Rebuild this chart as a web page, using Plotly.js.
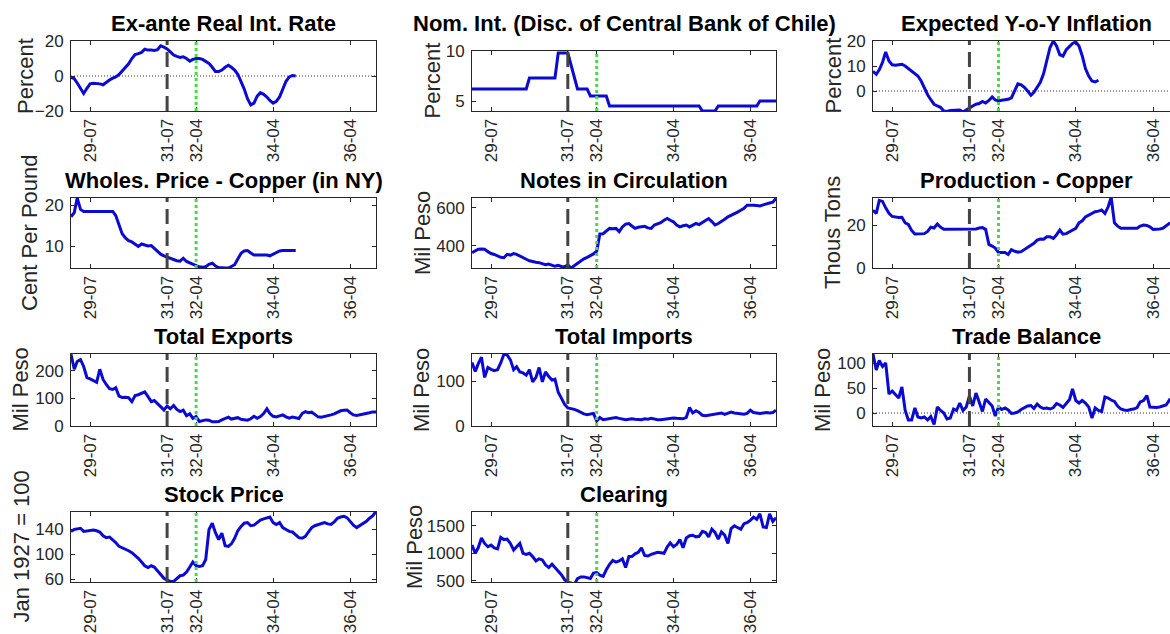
<!DOCTYPE html>
<html><head><meta charset="utf-8">
<script src="https://cdn.plot.ly/plotly-3.0.1.min.js"></script>
<style>html,body{margin:0;padding:0;overflow:hidden;background:#fff}#chart{width:1185px;height:634px}</style>
</head><body><div id="chart"></div><script>
// ---- x axis: monthly observations Jan 1929 .. Dec 1936 ----
const months = [];
for (let y = 1929; y <= 1936; y++) for (let m = 1; m <= 12; m++) months.push(y + '-' + String(m).padStart(2, '0') + '-01');
const xTickVals = ['1929-07-01', '1931-07-01', '1932-04-01', '1934-04-01', '1936-04-01'];
const xTickText = ['29-07', '31-07', '32-04', '34-04', '36-04'];
const dashedEventDate = '1931-07-01';
const dottedEventDate = '1932-04-01';

// ---- series ----
const realRate = [-0.8,-1.5,-4,-7.5,-10,-7,-4.5,-4.2,-4.3,-4.5,-5,-3.5,-2.3,-1.2,-0.5,0.8,3,5,7,10,12.3,12.8,13.5,15.3,14.8,14.8,14.6,15,17.2,16.5,15.5,13.8,12,11.2,10.6,11,10,8.5,9.5,10,10,9.5,8.5,7.2,5,2.5,2.5,3.4,5,6.1,5,3.4,1,-3,-7.5,-13,-16.5,-15.5,-11.5,-9.5,-10.5,-12,-14,-15.5,-14.5,-12,-7,-3,-0.5,0.3,0];
const nomInt = [6.2,6.2,6.2,6.2,6.2,6.2,6.2,6.2,6.2,6.2,6.2,6.2,6.2,6.2,6.2,6.2,6.2,6.2,7.3,7.3,7.3,7.3,7.3,7.3,7.3,7.3,7.3,9.8,9.8,9.8,9.8,8.6,7.3,6.2,6.2,6.2,6.2,5.5,5.5,5.5,5.5,5.5,5.5,4.5,4.5,4.5,4.5,4.5,4.5,4.5,4.5,4.5,4.5,4.5,4.5,4.5,4.5,4.5,4.5,4.5,4.5,4.5,4.5,4.5,4.5,4.5,4.5,4.5,4.5,4.5,4.5,4.5,4,4,4,4,4,4.5,4.5,4.5,4.5,4.5,4.5,4.5,4.5,4.5,4.5,4.5,4.5,4.5,5,5,5,5,5,5];
const expInflation = [7.9,6.7,8.5,11.5,15.6,12,10.5,10.3,10.5,10.7,10,9,8,7.2,6,4,1,-1.5,-3.5,-5.3,-6,-6.5,-8,-8.2,-7.8,-7.8,-7.6,-7.6,-8.4,-7.5,-6.7,-6,-5.3,-5,-4.2,-4.8,-3.8,-2.4,-3.6,-4,-3.7,-3.5,-3.3,-2.7,0,2.9,2.5,1.5,0,-1.7,-0.5,1.5,3.5,7,12,17.5,20,18,14.5,14,16.5,18,19,19.6,18,14,9,6,4,3.6,4.3];
const copperPrice = [17.2,18.2,21.8,19,18.5,18.5,18.5,18.5,18.5,18.5,18.5,18.5,18.5,18.5,17.5,15,13,12,11.3,11,10.4,9.9,10.5,10.2,10,10.1,9.5,8.6,8,7.6,7.3,7,6.7,6.4,6.3,7,6.2,5.8,5.5,5.2,4.9,4.8,4.9,5.5,5.8,5.1,4.7,4.6,4.6,4.6,4.9,5.4,6.8,8.2,8.8,8.9,8.3,7.8,7.8,7.8,7.9,7.8,7.6,8,8.4,8.8,8.9,8.9,8.9,8.9,8.9];
const notes = [365,375,383,384,383,370,360,355,348,340,338,356,352,360,356,346,338,330,322,316,314,312,306,301,305,300,293,298,292,290,300,284,296,310,322,332,340,348,358,372,463,464,480,492,490,492,475,500,515,518,505,492,498,500,503,495,492,510,518,522,535,544,535,527,510,500,506,510,500,510,518,512,522,536,544,528,510,518,527,540,553,560,570,578,588,598,614,615,614,612,610,616,623,626,630,650];
const copperProd = [26.9,25.4,31.5,31,28,25.5,24,23.7,23.5,23.6,21,20.3,17.5,15.8,15.8,16,16,17,19,18.6,20.5,19,18,18,18,18,18,18,18,18,18,18,18.2,18.6,18.8,18,11,10.2,9.3,7.2,7.2,7.2,6.3,8.5,7.8,7.4,7.6,8.5,9.5,10.5,11.5,13,13.5,13.4,14.5,14.5,13.8,15.5,17.7,15.8,16,16.9,17.5,18.5,21,22,23.8,24.5,25.5,26.2,26.5,27,25.4,28.5,33,21,19.5,18.5,18.5,18.5,18.5,18.2,18.5,19.5,20,19.8,19.2,18,18,18.2,18.5,19.8,20.8,21,22,22];
const exportsTot = [259,205,233,240,215,175,170,163,158,205,168,150,135,132,138,108,103,104,102,88,110,113,118,123,106,88,92,80,67,58,72,62,74,60,52,57,37,44,28,34,16,20,22,21,15,15,16,22,28,32,25,28,30,24,22,21,26,35,28,34,45,62,45,35,33,38,40,33,28,32,30,27,45,52,48,50,42,33,32,34,38,40,44,50,55,57,58,48,40,38,40,42,45,48,51,51];
const importsTot = [141,121,138,153,108,130,126,123,125,140,160,158,147,125,132,120,118,113,125,98,108,130,98,120,110,102,104,75,62,48,40,39,37,34,30,27,25,26,28,11,19,14,15,16,18,19,17,15,14,15,16,15,14,14,16,15,17,15,14,14,15,16,17,18,17,16,16,19,41,29,34,30,24,23,24,25,26,27,29,26,28,31,29,28,27,26,28,35,30,29,28,29,30,29,30,35];
const tradeBalance = [118,86,105,93,100,38,44,38,30,52,5,-14,-14,10,-8,-10,-8,-14,-7,-23,12,5,0,-12,-10,8,5,20,5,12,34,14,40,22,3,28,20,14,-6,12,7,10,6,-1,0,2,7,11,14,15,9,18,12,9,10,8,11,19,16,11,18,27,48,25,20,25,20,12,-10,10,5,3,32,30,26,23,14,8,6,5,7,8,11,22,25,35,12,11,11,12,14,16,26,20,18,20];
const stockPrice = [137,140,141,142,137,138,139,139,138,136,130,127,128,124,119,113,111,109,106,103,99,94,88,82,79,82,80,74,67,62,59,57,57,61,66,67,72,80,88,82,81,82,92,140,150,135,124,134,114,113,117,126,138,145,150,151,146,147,151,155,157,159,160,151,148,151,143,140,137,136,132,127,126,129,136,143,146,148,150,151,149,148,152,158,160,161,159,152,147,143,146,150,153,158,162,169];
const clearing = [1150,1000,1100,1280,1180,1120,1150,1100,1080,1290,1250,1260,1180,1060,1120,1180,1000,980,1000,940,860,900,880,790,740,800,740,680,610,520,470,460,430,540,570,570,550,540,640,650,600,580,700,800,870,840,860,900,740,940,940,990,1020,1100,960,950,980,1000,1020,1010,1000,1120,1190,1120,1160,1250,1100,1280,1320,1330,1300,1310,1400,1380,1300,1440,1380,1260,1390,1330,1180,1450,1500,1470,1440,1540,1560,1600,1660,1620,1720,1480,1470,1720,1580,1650];

// ---- panel texts / scales ----
const panelTitles = ['Ex-ante Real Int. Rate','Nom. Int. (Disc. of Central Bank of Chile)','Expected Y-o-Y Inflation','Wholes. Price - Copper (in NY)','Notes in Circulation','Production - Copper','Total Exports','Total Imports','Trade Balance','Stock Price','Clearing'];
const panelUnits = ['Percent','Percent','Percent','Cent Per Pound','Mil Peso','Thous Tons','Mil Peso','Mil Peso','Mil Peso','Jan 1927 = 100','Mil Peso'];
const panelSeries = [realRate, nomInt, expInflation, copperPrice, notes, copperProd, exportsTot, importsTot, tradeBalance, stockPrice, clearing];
const yRanges = [[-20,20],[4,10],[-8,20],[4.6,21.8],[284,652],[0,32.6],[0,260],[0,160],[-26,118],[56,168],[477,1753]];
const yTickVals = [[-20,0,20],[5,10],[0,10,20],[10,20],[400,600],[0,20],[0,100,200],[0,100],[0,50,100],[60,100,140],[500,1000,1500]];
const zeroLinePanels = [0, 2, 8];

// ---- layout geometry (pixels) ----
const W = 1185, H = 634;
const colX = [[71,376],[472,776],[873,1179]];
const rowY = [[41,111],[198,268],[354,426],[512,582]];
const labelX = [25,432.5,832.5,30,423,833,20.5,422,823,20.5,414];
const FONT = 'Liberation Sans, Arial, Helvetica, sans-serif';
const INK = '#262626';

const traces = [], shapes = [], annotations = [];
const layout = {
  width: W, height: H, margin: {l:0,r:0,t:0,b:0},
  paper_bgcolor: '#fff', plot_bgcolor: '#fff', showlegend: false,
  font: {family: FONT, color: INK}
};

panelSeries.forEach((vals, i) => {
  const row = Math.floor(i / 3), col = i % 3;
  const [x0, x1] = colX[col];
  let [yt, yb] = rowY[row];
  if (i === 1) yt = 51;
  const sfx = i === 0 ? '' : String(i + 1);
  const xa = 'xaxis' + sfx, ya = 'yaxis' + sfx;
  layout[xa] = {
    domain: [x0 / W, x1 / W], anchor: 'y' + sfx, type: 'date',
    range: ['1929-01-01', '1936-12-01'],
    tickmode: 'array', tickvals: xTickVals, ticktext: xTickText, tickangle: -90,
    ticks: 'inside', ticklen: 4, tickwidth: 1, tickcolor: INK,
    showline: true, linecolor: INK, linewidth: 1, mirror: 'ticks',
    showgrid: false, zeroline: false, tickfont: {size: 17, color: INK, family: FONT},
    fixedrange: true
  };
  layout[ya] = {
    domain: [1 - yb / H, 1 - yt / H], anchor: 'x' + sfx,
    range: yRanges[i], tickmode: 'array', tickvals: yTickVals[i],
    ticks: 'inside', ticklen: 4, tickwidth: 1, tickcolor: INK,
    showline: true, linecolor: INK, linewidth: 1, mirror: 'ticks',
    showgrid: false, zeroline: false, tickfont: {size: 17, color: INK, family: FONT},
    ticklabelstandoff: 3, fixedrange: true
  };
  traces.push({
    type: 'scatter', mode: 'lines', x: months.slice(0, vals.length), y: vals,
    xaxis: 'x' + sfx, yaxis: 'y' + sfx,
    line: {color: '#0a0ad2', width: 3}, hoverinfo: 'skip'
  });
  if (zeroLinePanels.includes(i)) {
    shapes.push({type:'line', xref:'x' + sfx + ' domain', yref:'y' + sfx, x0:0, x1:1, y0:0, y1:0,
      line:{color:'#333', width:1, dash:'1px,2px'}, layer:'below'});
  }
  shapes.push({type:'line', xref:'x' + sfx, yref:'y' + sfx + ' domain', x0:dashedEventDate, x1:dashedEventDate, y0:0, y1:1,
    line:{color:'#444', width:3, dash:'15px,7px'}, layer:'above'});
  shapes.push({type:'line', xref:'x' + sfx, yref:'y' + sfx + ' domain', x0:dottedEventDate, x1:dottedEventDate, y0:0, y1:1,
    line:{color:'#44dd44', width:3, dash:'3px,3px'}, layer:'above'});
  annotations.push({
    text: '<b>' + panelTitles[i] + '</b>', xref:'paper', yref:'paper',
    x: (x0 + x1) / 2 / W, y: 1 - rowY[row][0] / H, xanchor:'center', yanchor:'bottom', yshift: 3,
    showarrow:false, font:{size:22, color:'#000', family: FONT}
  });
  annotations.push({
    text: panelUnits[i], xref:'paper', yref:'paper', textangle: -90,
    x: labelX[i] / W, y: 1 - (yt + yb) / 2 / H, xanchor:'center', yanchor:'middle',
    showarrow:false, font:{size:22, color:INK, family: FONT}
  });
});
layout.shapes = shapes;
layout.annotations = annotations;
Plotly.newPlot('chart', traces, layout, {displayModeBar: false, staticPlot: true});
</script></body></html>
